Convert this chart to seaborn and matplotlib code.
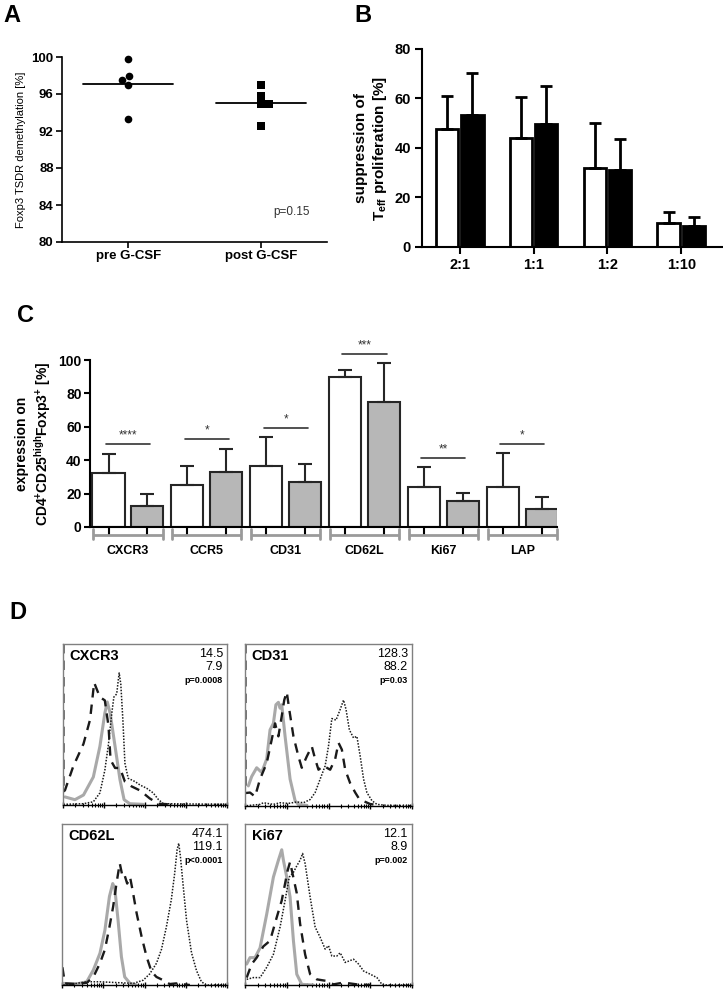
import matplotlib
matplotlib.use('Agg')
import matplotlib.pyplot as plt
import seaborn as sns
import pandas as pd
import numpy as np

# ---- panel A: TSDR demethylation ----
a_groups = ['pre G-CSF', 'post G-CSF']
a_pre = [99.8, 97.5, 97.9, 97.0, 93.3]
a_post = [97.0, 95.8, 94.9, 94.9, 92.5]

# ---- panel B: suppression assay ----
b_ratios = ['2:1', '1:1', '1:2', '1:10']
b_pre_mean = [47.5, 44.2, 32.0, 9.8]
b_pre_sd = [13.5, 16.6, 18.0, 4.2]
b_post_mean = [53.5, 49.8, 31.0, 8.3]
b_post_sd = [17.0, 15.4, 12.5, 3.9]

# ---- panel C: marker expression ----
c_markers = ['CXCR3', 'CCR5', 'CD31', 'CD62L', 'Ki67', 'LAP']
c_pre_mean = [32.5, 25.0, 36.5, 90.0, 24.0, 24.0]
c_pre_sd = [11.5, 11.5, 17.5, 4.0, 12.0, 20.5]
c_post_mean = [12.3, 33.0, 27.0, 75.0, 15.5, 10.5]
c_post_sd = [7.7, 14.0, 11.0, 23.0, 5.0, 7.5]
c_stars = ['****', '*', '*', '***', '**', '*']

# ---- panel D: histograms (x in log10 units, y in % of max) ----
cxcr3_solid_x = [0.05, 0.29, 0.50, 0.74, 0.90, 1.02, 1.08, 1.15, 1.27, 1.39, 1.49, 1.63, 1.96]
cxcr3_solid_y = [5, 3.3, 6.2, 17.4, 36.4, 57, 64, 57, 36.4, 15.7, 3.3, 0.8, 0.4]
cxcr3_dash_x = [0.01, 0.01, 0.05, 0.25, 0.50, 0.66, 0.76, 0.90, 1.02, 1.11, 1.16, 1.27, 1.39, 1.51,
                1.67, 1.88, 2.12, 2.33, 2.61]
cxcr3_dash_y = [100, 8, 9.3, 24, 38, 53, 76, 67, 65, 49, 28, 23, 23, 14.5, 11.6, 9, 4, 0.8, 0.4]
cxcr3_dot_x = [0.01, 0.50, 0.74, 0.90, 1.02, 1.11, 1.19, 1.24, 1.31, 1.35, 1.37, 1.41, 1.46, 1.51,
               1.59, 1.76, 1.88, 2.04, 2.20, 2.33, 2.45, 3.99]
cxcr3_dot_y = [0.4, 0.8, 2, 7.5, 21.5, 38, 57, 67, 69, 78, 82, 75, 53, 26, 16.6, 14.5, 12.4, 10.4,
               7.5, 3.3, 0.8, 0.4]

cd31_solid_x = [0.08, 0.16, 0.28, 0.40, 0.52, 0.60, 0.68, 0.74, 0.80, 0.84, 0.88, 0.96, 1.08, 1.20,
                1.28, 1.48]
cd31_solid_y = [12.4, 18.2, 23.6, 20.7, 29, 47, 51, 62.5, 64, 60.4, 62.5, 43, 16.6, 3.3, 0.8, 0.4]
cd31_dash_x = [0.01, 0.01, 0.12, 0.24, 0.36, 0.52, 0.64, 0.72, 0.80, 0.88, 0.94, 1.00, 1.06, 1.16,
               1.28, 1.36, 1.48, 1.60, 1.68, 1.76, 1.88, 2.04, 2.16, 2.24, 2.32, 2.40, 2.52, 2.64,
               2.72, 2.84, 3.00, 3.24]
cd31_dash_y = [100, 8, 8.3, 5.8, 16.6, 26.5, 41, 51, 43, 55.5, 65.4, 70.4, 59.6, 43, 30.6, 23.6,
               30.6, 36.8, 29, 22.4, 24.8, 22.4, 29, 39, 34.8, 22.4, 14, 8.3, 5, 3, 1.2, 0.4]
cd31_dot_x = [0.04, 0.36, 0.44, 0.68, 0.84, 1.04, 1.24, 1.40, 1.56, 1.68, 1.80, 1.92, 2.00, 2.08,
              2.18, 2.28, 2.36, 2.42, 2.50, 2.60, 2.68, 2.76, 2.84, 2.92, 3.04, 3.16, 3.40, 4.0]
cd31_dot_y = [0.2, 1, 2, 1, 2, 1.6, 2.5, 2, 4, 8.3, 16.6, 24.8, 37, 54, 53, 59.6, 65.4, 59.6, 47,
              42, 43, 30.6, 16.6, 8.3, 3.3, 1, 0.4, 0.2]

cd62l_solid_x = [0.03, 0.35, 0.60, 0.76, 0.92, 1.04, 1.15, 1.23, 1.28, 1.36, 1.44, 1.52, 1.65, 1.81]
cd62l_solid_y = [1, 0.6, 2, 9.3, 19.7, 34, 55, 63, 60, 40, 17.6, 5, 1, 0]
cd62l_dash_x = [0.01, 0.07, 0.35, 0.60, 0.76, 0.92, 1.04, 1.15, 1.24, 1.32, 1.40, 1.47, 1.52, 1.58,
                1.65, 1.71, 1.81, 1.93, 2.05, 2.17, 2.29, 2.45, 2.61, 2.77, 3.10]
cd62l_dash_y = [11, 1, 0.6, 1.4, 5, 13.5, 22, 36, 48.7, 63, 75.6, 67, 68, 63, 67, 59, 44.5, 30,
                17.6, 8.3, 5, 3, 0.6, 1, 0]
cd62l_dot_x = [0.03, 0.35, 0.60, 0.92, 1.32, 1.73, 1.97, 2.13, 2.29, 2.41, 2.53, 2.65, 2.73, 2.79,
               2.83, 2.87, 2.94, 3.02, 3.14, 3.26, 3.38, 3.50, 3.98]
cd62l_dot_y = [0, 1, 2, 2, 1.5, 1, 3, 7, 13.5, 22, 36, 53, 69, 84, 88, 80, 61, 40, 20, 9, 2, 0, 0]

ki67_solid_x = [0.04, 0.12, 0.24, 0.36, 0.52, 0.68, 0.80, 0.88, 0.92, 1.00, 1.08, 1.16, 1.24, 1.36,
                1.64]
ki67_solid_y = [13, 17, 17, 23, 44, 67, 77.5, 84, 77.5, 67, 54.6, 27.5, 6.7, 0.4, 0]
ki67_dash_x = [0.04, 0.16, 0.28, 0.44, 0.60, 0.76, 0.88, 0.96, 1.02, 1.08, 1.14, 1.24, 1.32, 1.44,
               1.56, 1.72, 1.96, 2.12, 2.36, 2.68, 3.00]
ki67_dash_y = [4.6, 13, 17, 24, 27.5, 42, 52.5, 63, 71, 76.5, 69, 57, 38, 19, 6.7, 3.5, 2.5, 0.4,
               1.5, 0.4, 0]
ki67_dot_x = [0.04, 0.20, 0.36, 0.52, 0.68, 0.84, 0.96, 1.06, 1.16, 1.24, 1.32, 1.38, 1.44, 1.56,
              1.68, 1.80, 1.92, 2.00, 2.08, 2.20, 2.28, 2.40, 2.60, 2.72, 2.84, 3.00, 3.16, 3.28,
              3.40, 4.0]
ki67_dot_y = [3.5, 4.6, 4.6, 11, 19, 36, 52.5, 67, 70, 74, 77.5, 81.7, 75.4, 54.6, 36, 29.6, 22.3,
              24.4, 18, 18, 20, 14, 16, 13, 8.7, 6.7, 4.6, 0.4, 0, 0]

d_names = ['CXCR3', 'CD31', 'CD62L', 'Ki67']
d_mfi_pre = ['14.5', '128.3', '474.1', '12.1']
d_mfi_post = ['7.9', '88.2', '119.1', '8.9']
d_pvals = ['p=0.0008', 'p=0.03', 'p<0.0001', 'p=0.002']

sns.set_theme(style='ticks')
plt.rcParams['font.family'] = ['Liberation Sans', 'DejaVu Sans']
plt.rcParams['mathtext.fontset'] = 'custom'
plt.rcParams['mathtext.rm'] = 'Liberation Sans'
plt.rcParams['mathtext.bf'] = 'Liberation Sans:bold'
plt.rcParams['mathtext.it'] = 'Liberation Sans:italic'
plt.rcParams['axes.edgecolor'] = 'black'
plt.rcParams['axes.labelcolor'] = 'black'
plt.rcParams['text.color'] = 'black'
plt.rcParams['xtick.color'] = 'black'
plt.rcParams['ytick.color'] = 'black'

fig = plt.figure(figsize=(7.23, 9.97), dpi=100)

# panel letters
for letter, (px, py) in zip('ABCD', [(12, 15), (363, 15), (26, 316), (18, 612)]):
    fig.text(px / 723, 1 - py / 997, letter, fontsize=17, fontweight='bold', ha='center', va='center')

# ---------------- A ----------------
axA = fig.add_axes([62 / 723, 1 - 242 / 997, 265 / 723, 185 / 997])
dfA = pd.DataFrame({'group': [a_groups[0]] * len(a_pre) + [a_groups[1]] * len(a_post),
                    'value': a_pre + a_post})
sns.swarmplot(data=dfA[dfA.group == a_groups[0]], x='group', y='value', order=a_groups,
              marker='o', color='black', size=5.5, ax=axA)
sns.swarmplot(data=dfA[dfA.group == a_groups[1]], x='group', y='value', order=a_groups,
              marker='s', color='black', size=5.5, ax=axA)
for coll in axA.collections:
    coll.set_clip_on(False)
for i, vals in enumerate([a_pre, a_post]):
    axA.plot([i - 0.34, i + 0.34], [np.mean(vals)] * 2, color='black', lw=1.3)
axA.set_xlim(-0.5, 1.5)
axA.set_ylim(80, 100)
axA.set_yticks(range(80, 101, 4))
axA.set_xlabel('')
axA.set_ylabel('Foxp3 TSDR demethylation [%]', fontsize=8, labelpad=4)
axA.tick_params(axis='both', labelsize=9.5, width=1.2, length=4, pad=2)
for lab in axA.get_xticklabels() + axA.get_yticklabels():
    lab.set_fontweight('bold')
for s in ['left', 'bottom']:
    axA.spines[s].set_linewidth(1.2)
sns.despine(ax=axA)
axA.text(1.23, 83.2, 'p=0.15', fontsize=8.5, ha='center', va='center', color='#333333')

# ---------------- B ----------------
axB = fig.add_axes([422 / 723, 1 - 247 / 997, 300 / 723, 198 / 997])
dfB = pd.DataFrame({'ratio': b_ratios * 2,
                    'group': ['pre'] * len(b_ratios) + ['post'] * len(b_ratios),
                    'value': b_pre_mean + b_post_mean})
sns.barplot(data=dfB, x='ratio', y='value', hue='group', hue_order=['pre', 'post'],
            palette=['white', 'black'], edgecolor='black', linewidth=2, width=0.68, gap=0.1,
            errorbar=None, legend=False, ax=axB)
for cont, sds in zip(axB.containers, [b_pre_sd, b_post_sd]):
    for bar, sd in zip(cont, sds):
        axB.errorbar(bar.get_x() + bar.get_width() / 2, bar.get_height(), yerr=[[0], [sd]],
                     fmt='none', ecolor='black', elinewidth=2, capsize=4, capthick=2)
axB.set_xlim(-0.51, 3.55)
axB.set_ylim(0, 80)
axB.set_yticks(range(0, 81, 20))
axB.set_xlabel('')
axB.set_ylabel('suppression of\n' + r'$\mathbf{T}_{\mathbf{eff}}$' + ' proliferation [%]',
               fontsize=11, fontweight='bold', labelpad=4)
axB.tick_params(axis='both', labelsize=10.5, width=1.5, length=5, pad=3)
for lab in axB.get_xticklabels() + axB.get_yticklabels():
    lab.set_fontweight('bold')
for s in ['left', 'bottom']:
    axB.spines[s].set_linewidth(1.5)
sns.despine(ax=axB)

# ---------------- C ----------------
axC = fig.add_axes([90 / 723, 1 - 527 / 997, 467 / 723, 167 / 997])
dfC = pd.DataFrame({'marker': c_markers * 2,
                    'group': ['pre'] * len(c_markers) + ['post'] * len(c_markers),
                    'value': c_pre_mean + c_post_mean})
sns.barplot(data=dfC, x='marker', y='value', hue='group', hue_order=['pre', 'post'],
            palette=['white', '#b7b7b7'], edgecolor='#262626', linewidth=1.5, width=0.98,
            gap=0.17, errorbar=None, legend=False, ax=axC)
bar_centers = []
for cont, sds in zip(axC.containers, [c_pre_sd, c_post_sd]):
    for bar, sd in zip(cont, sds):
        xc = bar.get_x() + bar.get_width() / 2
        bar_centers.append(xc)
        axC.errorbar(xc, bar.get_height(), yerr=[[0], [sd]], fmt='none', ecolor='#262626',
                     elinewidth=1.5, capsize=5, capthick=1.5)
axC.set_xlim(-0.48, 5.44)
axC.set_ylim(0, 100)
axC.set_yticks(range(0, 101, 20))
axC.set_xticks(bar_centers, minor=True)
axC.tick_params(axis='x', which='minor', length=6, width=1.5, direction='out')
axC.tick_params(axis='x', which='major', length=0, pad=13, labelsize=9)
axC.tick_params(axis='y', labelsize=10, width=1.5, length=4, pad=2)
for lab in axC.get_xticklabels() + axC.get_yticklabels():
    lab.set_fontweight('bold')
axC.set_xlabel('')
axC.set_ylabel('expression on\n' + r'CD4$^{\mathbf{+}}$CD25$^{\mathbf{high}}$Foxp3$^{\mathbf{+}}$ [%]',
               fontsize=10, fontweight='bold', labelpad=4)
for s in ['left', 'bottom']:
    axC.spines[s].set_linewidth(1.5)
sns.despine(ax=axC)

# significance bars
for i, star in enumerate(c_stars):
    h = max(c_pre_mean[i] + c_pre_sd[i], c_post_mean[i] + c_post_sd[i]) + 5.5
    axC.plot([i - 0.28, i + 0.28], [h, h], color='#333333', lw=1.2, clip_on=False)
    axC.text(i, h + 1.5, star, ha='center', va='bottom', fontsize=8.5, color='#333333')

# gray brackets under each marker
trans = axC.get_xaxis_transform()
for i in range(len(c_markers)):
    axC.plot([i - 0.44, i + 0.44], [-0.048, -0.048], transform=trans, color='#9a9a9a', lw=2,
             clip_on=False, solid_capstyle='butt')
    for xe in (i - 0.44, i + 0.44):
        axC.plot([xe, xe], [-0.012, -0.07], transform=trans, color='#9a9a9a', lw=2,
                 clip_on=False)

# ---------------- D ----------------
d_boxes = [[63, 227, 644, 805], [245, 412, 644, 806], [62, 227, 824, 985], [245, 412, 824, 985]]
d_curves = [
    [(cxcr3_solid_x, cxcr3_solid_y), (cxcr3_dash_x, cxcr3_dash_y), (cxcr3_dot_x, cxcr3_dot_y)],
    [(cd31_solid_x, cd31_solid_y), (cd31_dash_x, cd31_dash_y), (cd31_dot_x, cd31_dot_y)],
    [(cd62l_solid_x, cd62l_solid_y), (cd62l_dash_x, cd62l_dash_y), (cd62l_dot_x, cd62l_dot_y)],
    [(ki67_solid_x, ki67_solid_y), (ki67_dash_x, ki67_dash_y), (ki67_dot_x, ki67_dot_y)],
]
line_styles = [dict(color='#a9a9a9', lw=2.2, linestyle='-'),
               dict(color='#1a1a1a', lw=1.7, linestyle=(0, (4, 3))),
               dict(color='#1a1a1a', lw=1.1, linestyle=(0, (1, 1)))]
minor_pos = [np.log10(k * 10 ** d) for d in range(4) for k in range(2, 10)]

for k in range(4):
    l, r, t, b = d_boxes[k]
    ax = fig.add_axes([l / 723, 1 - b / 997, (r - l) / 723, (b - t) / 997])
    for (xs, ys), st in zip(d_curves[k], line_styles):
        sns.lineplot(x=xs, y=ys, sort=False, estimator=None, ax=ax, **st)
    ax.set_xlim(0, 4)
    ax.set_ylim(0, 100)
    ax.set_yticks([])
    ax.set_xticks([0, 1, 2, 3, 4])
    ax.set_xticks(minor_pos, minor=True)
    ax.tick_params(axis='x', which='major', length=5, width=1, direction='inout', labelbottom=False)
    ax.tick_params(axis='x', which='minor', length=3, width=0.8, direction='inout')
    for s in ['top', 'right', 'left']:
        ax.spines[s].set_color('#808080')
        ax.spines[s].set_linewidth(1)
    ax.spines['bottom'].set_linewidth(1)
    ax.text(0.04, 0.925, d_names[k], transform=ax.transAxes, fontsize=10.5, fontweight='bold',
            ha='left', va='center')
    ax.text(0.975, 0.94, d_mfi_pre[k], transform=ax.transAxes, fontsize=9, ha='right', va='center')
    ax.text(0.975, 0.857, d_mfi_post[k], transform=ax.transAxes, fontsize=9, ha='right', va='center')
    ax.text(0.975, 0.776, d_pvals[k], transform=ax.transAxes, fontsize=6.5, fontweight='bold',
            ha='right', va='center')

fig.savefig('out.png', dpi=100)
